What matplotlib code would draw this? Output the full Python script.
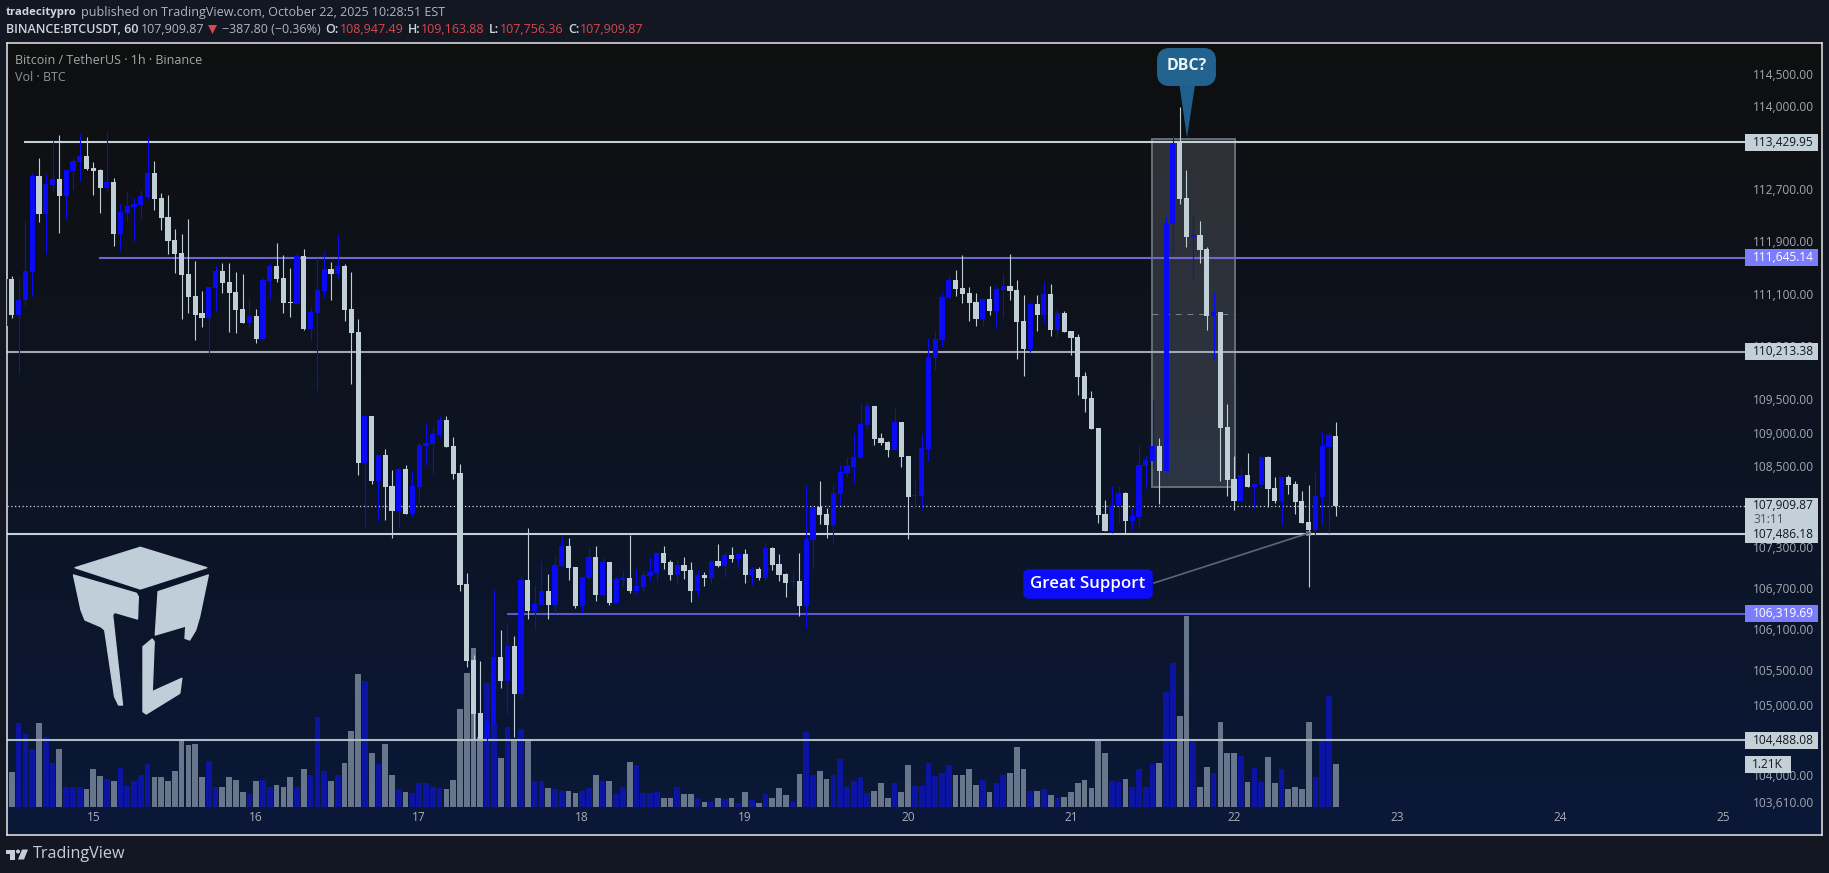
import numpy as np
import matplotlib
matplotlib.use("Agg")
import matplotlib.pyplot as plt
from matplotlib.colors import LinearSegmentedColormap
from matplotlib.patches import FancyBboxPatch, Polygon, Rectangle, Circle
from matplotlib.ticker import FixedLocator, FixedFormatter, NullLocator

plt.rcParams["font.family"] = ["Open Sans", "DejaVu Sans"]

# hours counted from Oct 15 00:00, one candle per hour
first_hour = -13

opens = [
    110612, 111320, 110781, 111000, 111428, 112906, 112321, 112763, 112860, 112598,
    112983, 113122, 113214, 113030, 112999, 112722, 112814, 112013, 112337, 112429,
    112460, 112583, 112953, 112568, 112275, 111921, 111721, 111397, 111058, 110797,
    110735, 111182, 111443, 111274, 111120, 110858, 110658, 110766, 110412, 111289,
    111520, 111336, 110966, 110935, 111674, 110566, 110797, 111135, 111474, 111397,
    111520, 110858, 110519, 108544, 109245, 108276, 108663, 108202, 107829, 108455,
    107784, 108187, 108797, 108827, 108961, 109185, 108797, 108395, 106756, 105646,
    104887, 104508, 104741, 105690, 105340, 105851, 105150, 106814, 106362, 106449,
    106654, 106449, 107019, 107311, 107004, 106435, 106844, 107150, 106595, 107077,
    106479, 106814, 106844, 106654, 106712, 106873, 106917, 107209, 107077, 106887,
    107033, 106960, 106654, 106887, 106844, 107092, 107019, 107179, 107121, 107194,
    106887, 106975, 106844, 107282, 107048, 106902, 106785, 106800, 106435, 107398,
    107889, 107784, 107620, 108082, 108395, 108485, 108619, 109110, 109393, 108917,
    108857, 108738, 109155, 108649, 108053, 108053, 108753, 110124, 110396, 111028,
    111305, 111182, 111105, 110966, 110720, 111012, 110828, 111151, 111212, 111151,
    110689, 110258, 110935, 110781, 111089, 110550, 110797, 110535, 110442, 109855,
    109513, 109066, 107784, 107531, 107918, 108097, 107680, 107740, 108500, 108574,
    108797, 108425, 112167, 113415, 112568, 111967, 111998, 111782, 110766, 110812,
    109081, 108306, 107978, 108365, 108187, 108217, 108634, 108172, 107978, 108336,
    108231, 107978, 107665, 107546, 108038, 108783, 108947.49,
]
highs = [
    111320, 111362, 111336, 112209, 112948, 113184, 112937, 113450, 113538, 113014,
    113184, 113569, 113522, 113122, 113014, 113615, 112876, 112475, 112660, 112568,
    112691, 113522, 113137, 112645, 112614, 112090, 112013, 112244, 111597, 111135,
    111197, 111520, 111567, 111567, 111428, 111397, 111012, 110858, 111336, 111567,
    111875, 111690, 111490, 111721, 111782, 110889, 111644, 111736, 111582, 111998,
    111551, 111428, 110720, 109259, 109245, 108663, 108753, 108440, 108470, 108514,
    108425, 108857, 109125, 109095, 109245, 109245, 108932, 108525, 106917, 105719,
    105632, 104931, 106668, 106084, 106172, 105997, 106858, 107576, 106741, 107092,
    106902, 107179, 107442, 107428, 107004, 106858, 107311, 107311, 107136, 107077,
    106858, 106960, 107471, 106975, 106946, 107150, 107223, 107311, 107106, 107121,
    107150, 107077, 106960, 106931, 107106, 107340, 107223, 107296, 107209, 107267,
    107004, 107004, 107369, 107296, 107194, 106917, 106917, 107209, 108217, 107889,
    108276, 107874, 108231, 108514, 108634, 108991, 109438, 109453, 109393, 108991,
    108872, 109379, 109155, 108649, 108291, 108976, 110427, 110535, 111120, 111382,
    111459, 111690, 111197, 111105, 111028, 111212, 111212, 111397, 111705, 111305,
    111074, 110966, 111074, 111274, 111243, 110874, 110828, 110535, 110489, 109915,
    109617, 109066, 107993, 108202, 108202, 108112, 107874, 108812, 108649, 109483,
    108917, 112290, 113553, 113984, 112999, 112306, 112213, 111813, 111120, 110812,
    109423, 108649, 108470, 108693, 108231, 108649, 108649, 108336, 108336, 108365,
    108276, 108127, 108217, 108410, 109021, 109006, 109163.88,
]
lows = [
    110612, 110735, 109875, 110904, 111058, 112198, 111705, 112675, 112029, 112244,
    112691, 112829, 112999, 112614, 112337, 112675, 111828, 111751, 112198, 111905,
    112244, 112552, 112383, 112075, 111705, 111413, 110720, 110797, 110396, 110596,
    110153, 110828, 111105, 110519, 110504, 110658, 110581, 110350, 110412, 111012,
    111274, 110797, 110750, 110920, 110550, 110396, 109632, 111028, 110997, 111336,
    110689, 109736, 108365, 107576, 108231, 107680, 107695, 107428, 107591, 107784,
    107740, 107948, 108514, 108395, 108917, 108783, 108306, 106658, 105544, 104508,
    104508, 104478, 104741, 105238, 104873, 104537, 105092, 106245, 106084, 106449,
    106245, 106333, 107019, 106814, 106406, 106333, 106829, 106508, 106581, 106449,
    106479, 106727, 106625, 106610, 106639, 106800, 106785, 106975, 106814, 106756,
    106829, 106493, 106581, 106727, 106771, 107004, 106858, 107077, 107019, 106771,
    106741, 106814, 106814, 106960, 106800, 106566, 106712, 106289, 106114, 107004,
    107635, 107428, 107355, 107918, 108336, 108246, 108619, 109051, 108812, 108812,
    108634, 108738, 108485, 107413, 107903, 107859, 108574, 109945, 110288, 111012,
    111058, 110951, 110689, 110612, 110612, 110781, 110581, 110735, 110997, 110109,
    109855, 110213, 110535, 110658, 110458, 110412, 110519, 110168, 109557, 109304,
    109051, 107650, 107531, 107501, 107650, 107501, 107546, 107591, 108172, 108470,
    107933, 108410, 111721, 112475, 111813, 111336, 111567, 110550, 110109, 108276,
    108053, 107844, 107978, 108187, 107874, 108172, 107889, 107948, 107620, 108082,
    107784, 107650, 106712, 107442, 107635, 107501, 107756.36,
]
closes = [
    111320, 110781, 111008, 111439, 112906, 112321, 112783, 112860, 112598, 112999,
    113137, 113214, 113014, 112983, 112722, 112814, 112013, 112352, 112444, 112475,
    112598, 112953, 112552, 112260, 111905, 111705, 111382, 111043, 110781, 110735,
    111197, 111443, 111259, 111105, 110843, 110658, 110766, 110412, 111305, 111520,
    111320, 110951, 110951, 111674, 110566, 110812, 111151, 111474, 111397, 111520,
    110843, 110504, 108544, 109245, 108276, 108663, 108187, 107829, 108455, 107784,
    108202, 108812, 108842, 108976, 109185, 108783, 108380, 106746, 105632, 104873,
    104508, 104756, 105690, 105340, 105851, 105150, 106814, 106362, 106464, 106654,
    106449, 107033, 107311, 106990, 106435, 106858, 107150, 106595, 107077, 106479,
    106829, 106844, 106654, 106727, 106887, 106931, 107209, 107063, 106887, 107033,
    106946, 106654, 106887, 106844, 107092, 107019, 107179, 107121, 107194, 106887,
    106975, 106844, 107282, 107033, 106887, 106771, 106800, 106435, 107413, 107889,
    107769, 107620, 108097, 108410, 108500, 108634, 109125, 109393, 108902, 108842,
    108738, 109155, 108634, 108038, 108067, 108768, 110139, 110412, 111043, 111305,
    111166, 111089, 110951, 110720, 111012, 110828, 111166, 111212, 111135, 110673,
    110258, 110935, 110781, 111089, 110550, 110797, 110519, 110427, 109840, 109498,
    109051, 107769, 107531, 107918, 108097, 107680, 107754, 108514, 108589, 108797,
    108425, 112183, 113415, 112552, 111967, 111998, 111767, 110766, 110812, 109066,
    108291, 107978, 108365, 108187, 108231, 108634, 108157, 107978, 108336, 108217,
    107963, 107650, 107546, 108053, 108797, 108961, 107909.87,
]
# volume in thousands of BTC
volumes = [
    1.44, 0.99, 2.37, 2.06, 1.66, 2.37, 2.00, 1.25, 1.66, 0.56,
    0.56, 0.58, 0.50, 1.07, 0.87, 0.81, 0.75, 1.12, 0.61, 0.73,
    0.92, 1.21, 0.84, 0.84, 0.75, 1.01, 1.94, 1.75, 1.80, 0.84,
    1.32, 0.56, 0.58, 0.84, 0.78, 0.44, 0.36, 0.75, 0.78, 0.56,
    0.64, 0.58, 0.84, 0.58, 1.09, 0.90, 2.54, 1.01, 0.75, 0.92,
    1.24, 2.17, 3.78, 3.58, 1.52, 1.21, 1.80, 0.92, 0.50, 0.44,
    0.39, 0.67, 0.67, 0.56, 0.53, 0.50, 0.78, 2.79, 3.81, 4.52,
    2.00, 3.52, 2.39, 1.38, 2.28, 1.92, 2.20, 1.89, 0.73, 0.75,
    0.53, 0.50, 0.47, 0.47, 0.39, 0.47, 0.53, 0.92, 0.75, 0.73,
    0.36, 0.58, 1.29, 1.18, 0.39, 0.39, 0.42, 0.27, 0.27, 0.56,
    0.36, 0.36, 0.25, 0.16, 0.16, 0.27, 0.22, 0.25, 0.13, 0.42,
    0.19, 0.13, 0.36, 0.27, 0.53, 0.33, 0.16, 0.95, 2.14, 0.90,
    1.01, 0.81, 0.90, 1.35, 0.56, 0.75, 0.84, 0.39, 0.47, 0.67,
    0.27, 0.67, 0.44, 1.18, 0.61, 0.61, 1.26, 0.87, 0.98, 1.18,
    0.90, 0.92, 1.09, 0.64, 0.78, 0.44, 0.67, 0.90, 0.98, 1.69,
    1.07, 0.47, 0.47, 0.50, 0.33, 0.27, 0.30, 0.44, 0.67, 0.78,
    0.53, 1.92, 1.52, 0.75, 0.70, 0.81, 0.56, 1.09, 0.56, 1.21,
    1.24, 3.27, 4.07, 2.59, 5.40, 1.92, 0.58, 1.15, 0.98, 2.42,
    1.52, 1.52, 1.46, 0.70, 1.12, 0.70, 1.41, 0.67, 1.07, 0.50,
    0.56, 0.50, 2.40, 0.84, 1.86, 3.16, 1.21,
]

day_labels = ["15", "16", "17", "18", "19", "20", "21", "22", "23", "24", "25"]
price_ticks = [114500, 114000, 113500, 112700, 111900, 111100, 110300, 109500, 109000,
               108500, 107300, 106700, 106100, 105500, 105000, 104500, 104000, 103610]

level_prices = [113429.95, 111645.14, 110213.38, 107486.18, 106319.69, 104488.08]
level_starts = [-10.2, 0.84, -12.71, -12.71, 60.9, -12.71]
level_colors = ["#c5d0d6", "#6a6ad0", "#a0a8ae", "#c5d0d6", "#5a5ac8", "#aebdc3"]
label_colors = ["#c3d0d8", "#7c7cff", "#c3d0d8", "#c3d0d8", "#7c7cff", "#c3d0d8"]
label_text = ["#131722", "#ffffff", "#131722", "#131722", "#ffffff", "#131722"]
last_price = 107909.87
last_volume = "1.21K"
box_top, box_mid, box_bottom = 113476, 110792, 108187
box_start, box_end = 155.96, 168.2

UP = "#0a0af5"
DOWN = "#c0ced6"
VOL_UP = "#0c14a2"
VOL_DOWN = "#67768a"
PAGE = "#131722"

W, H = 1829, 873
fig = plt.figure(figsize=(W / 100, H / 100), dpi=100, facecolor=PAGE)
pane = [7 / W, 1 - 835.4 / H, 1815 / W, 792 / H]

# pane background fades from near black to navy
ax_bg = fig.add_axes(pane, zorder=0)
grad = LinearSegmentedColormap.from_list("pane", ["#0f0f0f", "#0d1422", "#0a1838"])
ax_bg.imshow(np.linspace(0, 1, 256).reshape(-1, 1), cmap=grad, aspect="auto")
ax_bg.axis("off")

hours = np.arange(first_hour, first_hour + len(opens))
opens, highs, lows, closes = map(np.array, (opens, highs, lows, closes))
is_up = closes >= opens

ax_vol = fig.add_axes(pane, zorder=1)
ax_vol.patch.set_alpha(0)
ax_vol.bar(hours, volumes, width=0.84, color=np.where(is_up, VOL_UP, VOL_DOWN), linewidth=0)
ax_vol.set_xlim(-12.71, 254.6)
ax_vol.set_ylim(-0.80, 21.63)
ax_vol.axis("off")

ax = fig.add_axes(pane, zorder=2)
ax.patch.set_alpha(0)
ax.set_yscale("log")
ax.set_xlim(-12.71, 254.6)
ax.set_ylim(103134, 114983)

# long position style box behind the candles
ax.add_patch(Rectangle((box_start, box_bottom), box_end - box_start, box_top - box_bottom,
                       facecolor="#c8d2dc", alpha=0.17, edgecolor="none", zorder=1))
ax.add_patch(Rectangle((box_start, box_bottom), box_end - box_start, box_top - box_bottom,
                       facecolor="none", edgecolor="#656e75", linewidth=1.4, zorder=1.1))
ax.hlines(box_mid, box_start, box_end, color="#7d858b", linewidth=0.7, linestyle=(0, (6, 6)), zorder=1.2)

level_end = 243.2
ax.hlines(level_prices, level_starts, level_end, colors=level_colors, linewidth=1.5, zorder=2)
ax.hlines(last_price, -12.71, level_end, color="#cfd6dc", linewidth=0.9, linestyle=(0, (1, 2)), zorder=2)

wick_colors = np.where(is_up, UP, DOWN)
ax.vlines(hours, lows, highs, colors=wick_colors, linewidth=0.8, zorder=3)
body_low = np.minimum(opens, closes)
body_high = np.maximum(opens, closes)
ax.bar(hours, body_high - body_low, bottom=body_low, width=0.76, color=wick_colors, linewidth=0, zorder=4)

ax.xaxis.set_major_locator(FixedLocator([24 * d for d in range(len(day_labels))]))
ax.xaxis.set_major_formatter(FixedFormatter(day_labels))
ax.xaxis.set_minor_locator(NullLocator())
ax.tick_params(axis="x", length=0, pad=-17.5, labelsize=8.6, labelcolor="#a9adb5")
ax.yaxis.tick_right()
ax.yaxis.set_major_locator(FixedLocator(price_ticks))
ax.yaxis.set_major_formatter(FixedFormatter([f"{p:,.2f}" for p in price_ticks]))
ax.yaxis.set_minor_locator(NullLocator())
ax.tick_params(axis="y", which="both", length=0, pad=-50, labelsize=8.6, labelcolor="#a4a8ae")
for s in ax.spines.values():
    s.set_color("#e6e8ea")
    s.set_linewidth(1.1)

# overlay in pixel units for the annotations and the header
ov = fig.add_axes([0, 0, 1, 1], zorder=3)
ov.set_xlim(0, W)
ov.set_ylim(H, 0)
ov.axis("off")


def y_px(price):
    return H - ax.transData.transform((0, price))[1]


def price_label(price, face, text_color):
    y = y_px(price)
    ov.add_patch(Rectangle((1745, y - 8.5), 73, 17, facecolor=face, edgecolor="none"))
    ov.text(1753, y, f"{price:,.2f}", color=text_color, fontsize=8.6, va="center", ha="left")


for price, face, tc in zip(level_prices, label_colors, label_text):
    price_label(price, face, tc)

# last price with countdown, merges with the level just under it
last_y = y_px(last_price)
ov.add_patch(Rectangle((1745, last_y - 8), 73, 34, facecolor="#c3d0d8", edgecolor="none"))
ov.text(1753, last_y, f"{last_price:,.2f}", color="#131722", fontsize=8.6, va="center")
ov.text(1753, last_y + 14, "31:11", color="#4e5560", fontsize=8.6, va="center")

vol_y = H - ax_vol.transData.transform((0, volumes[-1]))[1]
ov.add_patch(Rectangle((1745, vol_y - 8.5), 46, 17, facecolor="#c3d0d8", edgecolor="none"))
ov.text(1752, vol_y, last_volume, color="#131722", fontsize=8.6, va="center")

# DBC? callout
ov.add_patch(Polygon([(1179.5, 85), (1195, 85), (1187, 138)], facecolor="#1f5f8b", edgecolor="none"))
ov.add_patch(FancyBboxPatch((1163, 54), 47, 26, boxstyle="round,pad=0,rounding_size=6",
                            mutation_aspect=1, facecolor="#22628f", edgecolor="#22628f", linewidth=8.6))
ov.text(1186.5, 66, "DBC?", color="#f0f3f5", fontsize=11.5, fontweight="bold", ha="center", va="center",
        fontstretch="condensed")

# Great Support note
ov.plot([1154, 1309], [583, 533], color="#5b6676", linewidth=1.2, solid_capstyle="round")
ov.add_patch(Rectangle((1306, 530.5), 5, 5, facecolor="#8b949e", alpha=0.7, edgecolor="none"))
ov.add_patch(FancyBboxPatch((1026, 572), 124, 24, boxstyle="round,pad=0,rounding_size=3",
                            facecolor="#0c0cf8", edgecolor="#0c0cf8", linewidth=4))
ov.text(1088, 583.5, "Great Support", color="#ffffff", fontsize=12.2, fontweight="semibold", ha="center", va="center")

# logo at bottom left
LOGO = "#bfced8"
logo_parts = [
    [(75.1, 567.7), (140.3, 547.3), (206.7, 567.7), (140.3, 589)],
    [(73.5, 575), (136.4, 593.3), (138.3, 596.7), (137.5, 619), (114.6, 612.3), (112.6, 615), (122.5, 705),
     (118.6, 705), (114.6, 696.7), (104.7, 630), (100.8, 626.7), (85, 620), (81, 610)],
    [(208.3, 575), (158.1, 591.7), (155.3, 635), (185.8, 626), (185, 638.3), (189.7, 640), (195.7, 630),
     (199.6, 616.7)],
    [(143, 646.7), (152.2, 639), (154.2, 641.7), (152.2, 691.7), (181.8, 678.3), (179.8, 693.3), (146.2, 714),
     (143, 711.7)],
]
for part in logo_parts:
    ov.add_patch(Polygon(part, facecolor=LOGO, edgecolor=LOGO, linewidth=1.0, joinstyle="round"))

# TradingView mark in the footer
TV = "#c8ccd4"
ov.add_patch(Polygon([(6, 849.5), (14.5, 849.5), (14.5, 859.5), (10, 859.5), (10, 853.5), (6, 853.5)], facecolor=TV))
ov.add_patch(Circle((18, 851.5), 2, facecolor=TV))
ov.add_patch(Polygon([(22, 849.5), (28, 849.5), (24, 859.5), (18, 859.5)], facecolor=TV))
ov.text(33, 854, "TradingView", color=TV, fontsize=11.6, fontweight="medium", va="center")

# header lines
HEAD = "#d1d4dc"
SOFT = "#b2b5be"
RED = "#d8484c"
ov.text(6, 12.5, "tradecitypro", color=HEAD, fontsize=8.2, fontweight="bold", va="center")
ov.text(81, 12.5, "published on TradingView.com, October 22, 2025 10:28:51 EST", color=SOFT, fontsize=9, va="center")
ov.text(6, 29.5, "BINANCE:BTCUSDT, 60", color=HEAD, fontsize=9, fontweight="semibold", va="center")
ov.text(141, 29.5, "107,909.87", color=SOFT, fontsize=9, va="center")
ov.add_patch(Polygon([(208, 25), (217, 25), (212.5, 34)], facecolor=RED))
ov.text(222, 29.5, "\u2212387.80 (\u22120.36%)", color=SOFT, fontsize=9, va="center")
for lx, letter, vx, val in [(325.7, "O:", 340, "108,947.49"), (408, "H:", 421, "109,163.88"),
                            (489, "L:", 500, "107,756.36"), (568, "C:", 580, "107,909.87")]:
    ov.text(lx, 29.5, letter, color=HEAD, fontsize=9, fontweight="semibold", va="center")
    ov.text(vx, 29.5, val, color=RED, fontsize=9, va="center")

# legend text in the pane
ov.text(15, 60.5, "Bitcoin / TetherUS \u00b7 1h \u00b7 Binance", color="#a4a8b0", fontsize=9, va="center")
ov.text(15, 77.7, "Vol \u00b7 BTC", color="#8f939b", fontsize=9, va="center")

fig.savefig("out.png", dpi=100, facecolor=PAGE)
